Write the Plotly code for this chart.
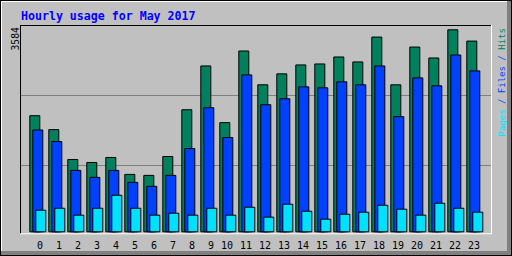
import plotly.graph_objects as go

# ---------------- data ----------------
hours = list(range(24))
hour_labels = [str(h) for h in hours]
hits = [2060, 1813, 1283, 1230, 1319, 1018, 1001, 1336, 2166, 2943, 1937, 3208,
        2608, 2802, 2961, 2978, 3102, 3014, 3455, 2608, 3278, 3084, 3584, 3384]
files = [1806, 1601, 1089, 966, 1089, 877, 807, 1001, 1478, 2202, 1672, 2784,
         2255, 2361, 2572, 2555, 2661, 2608, 2943, 2043, 2731, 2590, 3137, 2855]
pages = [383, 418, 295, 418, 648, 418, 295, 330, 295, 418, 295, 436,
         260, 489, 365, 224, 312, 348, 471, 401, 295, 507, 418, 348]
max_label = "3584"
title = "Hourly usage for May 2017"

C_HITS = "#00805C"
C_FILES = "#0040FF"
C_PAGES = "#00E0FF"
BG = "#C0C0C0"

# ---------------- layout geometry ----------------
W, H = 512, 256
PL, PR, PT, PB = 20, 491, 25, 234
PITCH = 19.0
bw = 10 / PITCH

def px(x):
    return (x - PL) / (PR - PL)

def py(y):
    return (PB - y) / (PB - PT)

fig = go.Figure()
for vals, col, off, name in [(hits, C_HITS, -0.5, "Hits"),
                             (files, C_FILES, -0.5 + 3 / PITCH, "Files"),
                             (pages, C_PAGES, -0.5 + 6 / PITCH, "Pages")]:
    fig.add_trace(go.Bar(x=hours, y=vals, width=bw, offset=off, name=name,
                         marker=dict(color=col, line=dict(color="black", width=1))))

yscale = 3584 / 202.0
y0 = -(PB - 231.8) * yscale
y1 = (231.8 - PT) * yscale
x0 = (PL - 39.3) / PITCH
x1 = (PR - 39.3) / PITCH

shapes = []
def line(xa, ya, xb, yb, color, w=1):
    shapes.append(dict(type="line", xref="paper", yref="paper",
                       x0=px(xa), y0=py(ya), x1=px(xb), y1=py(yb),
                       line=dict(color=color, width=w), layer="above"))
def rect(xa, ya, xb, yb, color):
    shapes.append(dict(type="rect", xref="paper", yref="paper",
                       x0=px(xa), y0=py(ya), x1=px(xb), y1=py(yb),
                       line=dict(width=0), fillcolor=color, layer="above"))

# outer frame
rect(507, 0, 511, 256, "#808080")
rect(0, 251, 512, 255, "#808080")
line(0, 0.5, 512, 0.5, "black")
line(0, 255.5, 512, 255.5, "black")
line(0.5, 0, 0.5, 256, "black")
line(511.5, 0, 511.5, 256, "black")
line(1, 1.5, 507, 1.5, "white")
line(1.5, 1, 1.5, 251, "white")
# inner plot frame
line(20, 25.5, 491, 25.5, "black")
line(20.5, 25, 20.5, 234, "black")
line(20, 233.8, 492, 233.8, "white")
line(491.5, 25, 491.5, 234, "white")

annotations = []
annotations.append(dict(text="<b>" + title + "</b>", xref="paper", yref="paper",
                        x=px(19), y=py(15.5), xanchor="left", yanchor="middle",
                        showarrow=False,
                        font=dict(family="DejaVu Sans Mono", size=11.6, color="#0000FF")))
annotations.append(dict(text=max_label, xref="paper", yref="paper",
                        x=px(14.5), y=py(39), xanchor="center", yanchor="middle",
                        textangle=-90, showarrow=False,
                        font=dict(family="DejaVu Sans Mono", size=9.7, color="black")))
right_txt = ("<span style='color:%s'>Pages</span> / <span style='color:%s'>Files</span>"
             " / <span style='color:%s'>Hits</span>") % (C_PAGES, C_FILES, C_HITS)
annotations.append(dict(text=right_txt, xref="paper", yref="paper",
                        x=px(501.5), y=py(83), xanchor="center", yanchor="middle",
                        textangle=-90, showarrow=False,
                        font=dict(family="DejaVu Sans Mono", size=9, color=C_FILES)))
for h, lab in zip(hours, hour_labels):
    annotations.append(dict(text=lab, xref="x", yref="paper",
                            x=h + 0.27, y=py(245.5), xanchor="right", yanchor="middle",
                            showarrow=False, borderpad=0,
                            font=dict(family="DejaVu Sans Mono", size=10, color="black")))

grid_vals = [1176, 2418]

fig.update_layout(
    width=W, height=H,
    margin=dict(l=PL, r=W - PR, t=PT, b=H - PB, autoexpand=False),
    paper_bgcolor=BG, plot_bgcolor=BG,
    barmode="overlay", showlegend=False,
    xaxis=dict(range=[x0, x1], showgrid=False, zeroline=False, showline=False,
               showticklabels=False, ticks=""),
    yaxis=dict(range=[y0, y1], tickvals=grid_vals, showgrid=True, gridcolor="#808080",
               gridwidth=1, zeroline=False, showline=False, showticklabels=False, ticks=""),
    shapes=shapes, annotations=annotations,
)
fig.write_html("out.html", config={"displayModeBar": False})
